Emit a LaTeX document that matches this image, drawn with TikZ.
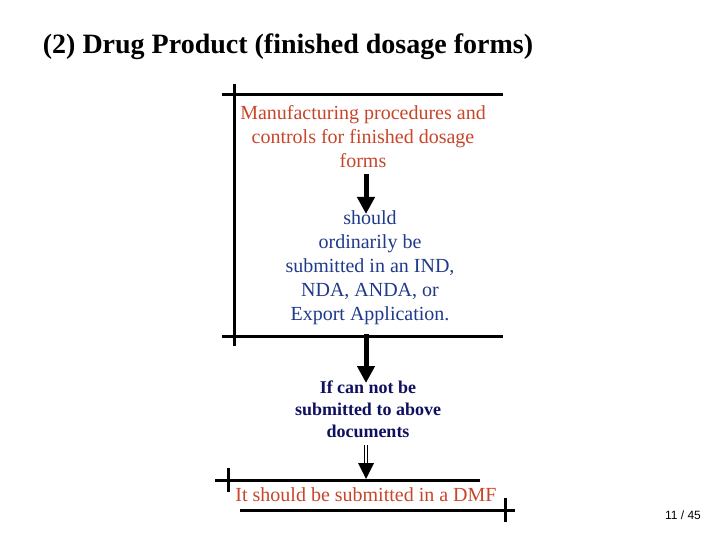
\documentclass[tikz,border=0pt]{standalone}
\usepackage{fontspec}
\setmainfont{Liberation Serif}
\newfontfamily\pagefont{Liberation Sans}
\usetikzlibrary{arrows.meta}
\definecolor{redt}{HTML}{C8452A}
\definecolor{bluet}{HTML}{1F3A8A}
\definecolor{navyt}{HTML}{101060}
\begin{document}
\begin{tikzpicture}[x=1pt,y=-1pt,
  rule/.style={line width=3pt},
  txt/.style={align=center,inner sep=0pt,font=\fontsize{20}{24}\selectfont},
  fat/.style={line width=5pt,-{Triangle[width=17pt,length=17pt]}}]
\useasboundingbox (0,0) rectangle (720,540);
\node[font=\fontsize{28}{32}\selectfont\bfseries,inner sep=0pt] (title) at (288,47) {(2) Drug Product (finished dosage forms)};
\draw[rule] (222,95) -- (503,95);
\draw[rule] (234,84) -- (234,346);
\draw[rule] (222,336) -- (503,336);
\node[txt,text=redt] (a) at (363,137) {Manufacturing procedures and\\controls for finished dosage\\forms};
\node[txt,text=bluet] (b) at (370,268) {should\\ordinarily be\\submitted in an IND,\\NDA, ANDA, or\\Export Application.};
\node[txt,text=navyt,font=\fontsize{18}{22}\selectfont\bfseries] (c) at (368,409) {If can not be\\submitted to above\\documents};
\coordinate (a1) at (366,174);
\coordinate (a2) at (366,214);
\coordinate (b1) at (366,334);
\coordinate (b2) at (366,383);
\draw[fat] (a1) -- (a2);
\draw[fat] (b1) -- (b2);
\coordinate (d1) at (366,445);
\coordinate (d2) at (366,463);
\coordinate (d3) at (366,479);
\draw[line width=1pt] ([xshift=-1.6pt]d1) -- ([xshift=-1.6pt]d2);
\draw[line width=1pt] ([xshift=1.6pt]d1) -- ([xshift=1.6pt]d2);
\fill (d2) ++(-8,0) -- ++(16,0) -- (d3) -- cycle;
\draw[rule] (215,480) -- (480,480);
\draw[rule] (228,468) -- (228,492);
\draw[rule] (240,510) -- (515,510);
\draw[rule] (505,498) -- (505,522);
\node[txt,text=redt] (e) at (366,495) {It should be submitted in a DMF};
\node[font=\pagefont\fontsize{12}{14}\selectfont,inner sep=0pt] (p) at (683,515) {11 / 45};
\end{tikzpicture}
\end{document}
